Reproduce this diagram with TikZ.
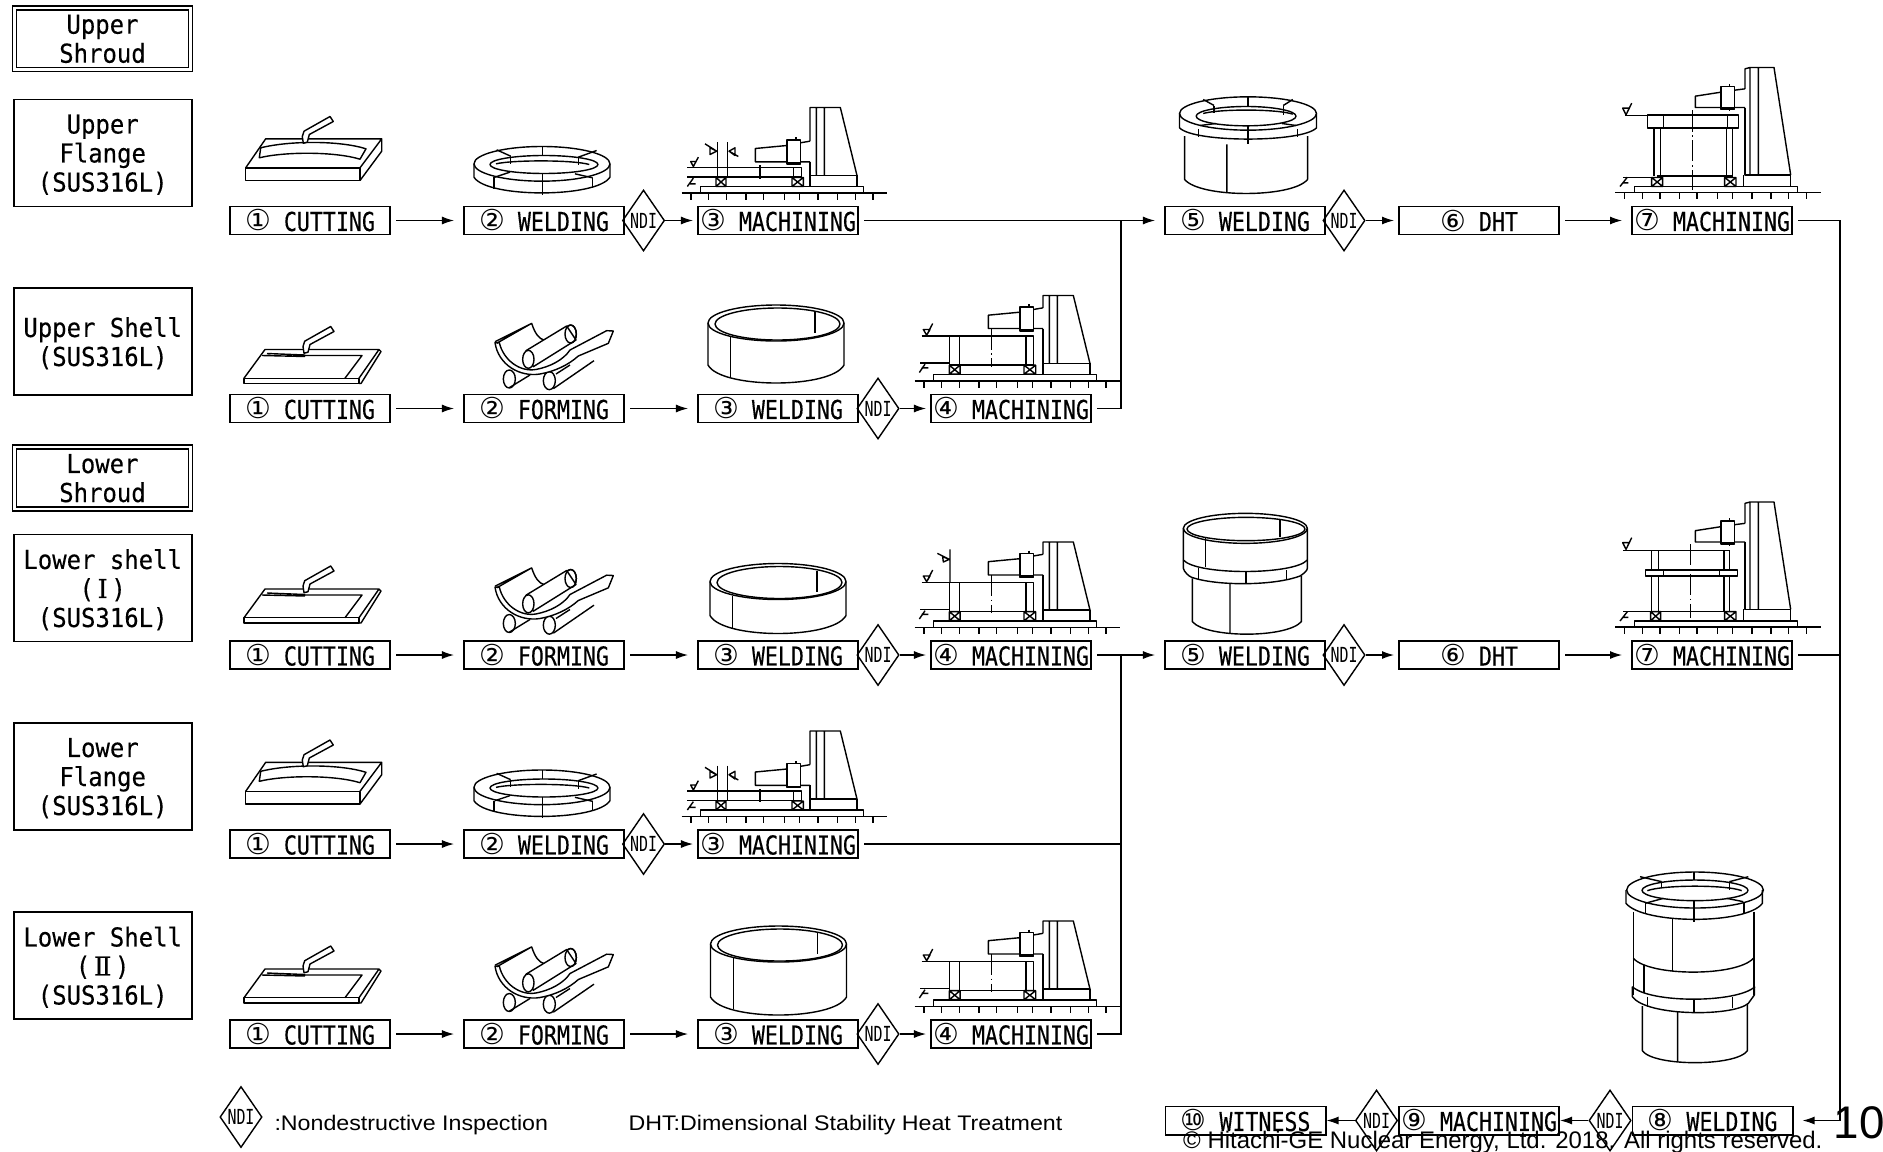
\documentclass[tikz,border=0pt]{standalone}
\usepackage{fontspec}
\usetikzlibrary{arrows.meta,positioning,shapes.geometric}
\newfontfamily\gothic[FakeStretch=0.83,FakeBold=0.25]{DejaVu Sans Mono}
\newfontfamily\gothicwide[FakeStretch=0.92,FakeBold=0.25]{DejaVu Sans Mono}
\newfontfamily\ndifamily[FakeStretch=0.72]{DejaVu Sans Mono}
\newfontfamily\circfamily{DejaVu Sans}
\newfontfamily\romanfamily[FakeBold=0.25]{DejaVu Serif}
\newfontfamily\notefamily[FakeStretch=1.1]{Liberation Sans}
\newfontfamily\arialfamily{Liberation Sans}
\newcommand{\stepnum}[1]{{\circfamily\fontsize{8.2}{8.2}\selectfont #1}}
\newcommand{\romnum}[1]{\hspace{1pt}{\romanfamily #1}\hspace{1pt}}
\tikzset{
  part/.style={draw, line width=.4pt, line join=round},
  centerline/.style={part, dash pattern=on 6pt off 1pt on .5pt off 1pt},
  pics/torch/.style={code={
    \draw[part, fill=white] (-6.7,-77.3) -- (-7.7,-84) -- (-6,-89.3) -- (20,-104) -- (23.3,-99) -- (-0.7,-86) -- (-2.7,-78.3) -- cycle;
  }},
  pics/plate/.style={code={
    \draw[part] (-64.3,-52.7) rectangle (50,-40);
    \draw[part] (-64.3,-52.7) -- (-44.3,-81.7) -- (71.7,-81.7) -- (50,-52.7) (71.7,-81.7) -- (71.7,-69.3) -- (50,-40);
    \draw[part] (-49.3,-72.7) .. controls (-20,-80) and (30,-80) .. (56,-71.7) -- (50,-61.3) .. controls (25,-69) and (-25,-69) .. (-50.7,-62.7) -- cycle;
    \pic {torch};
  }},
  pics/sheet/.style={code={
    \draw[part] (-66,-30.3) rectangle (49,-25);
    \draw[part] (-66,-30.3) -- (-45,-59) -- (69,-59) -- (49,-30.3) (69,-59) -- (71,-57) -- (51,-25) -- (49,-25);
    \draw[part] (-48,-53) -- (-5,-52) (-43,-55) -- (-5,-53.5) (-5,-53) -- (52,-53) -- (35,-30.3);
    \pic[shift={(0.7,22)}] {torch};
  }},
  pics/flangering/.style={code={
    \begin{scope}[shift={(-324,-160)}, scale=0.3333]
      \draw[part] (966,310) ellipse [x radius=204, y radius=52];
      \draw[part] (972,312) ellipse [x radius=162, y radius=27];
      \draw[part] (828,310) .. controls (880,298) and (1060,298) .. (1108,312);
      \draw[part] (762,310) -- (762,350) .. controls (800,413) and (1130,413) .. (1170,350) -- (1170,310);
      \draw[part] (967,258) -- (967,285) (967,338) -- (967,403) (872,288) -- (872,310) (1075,290) -- (1075,315) (822,350) -- (822,385) (1117,352) -- (1117,382);
      \draw[part] (830,268) -- (872,287) (1130,270) -- (1075,290) (825,350) -- (870,335) (1118,352) -- (1065,340);
    \end{scope}
  }},
  pics/rollers/.style={code={
    \begin{scope}[shift={(-74,-108.5)}, scale=0.3333]
      \draw[part] (118,237) ellipse [x radius=18, y radius=27];
      \draw[part] (118,263) -- (180,225);
      \draw[part] (238,242) ellipse [x radius=18, y radius=27];
      \draw[part] (250,266) -- (372,182) (258,222) -- (300,195);
      \draw[part, fill=white] (75,128) .. controls (85,195) and (150,232) .. (210,222) .. controls (255,214) and (295,195) .. (325,168) -- (415,130) -- (430,93) -- (410,92) -- (300,150) .. controls (280,180) and (240,200) .. (200,208) .. controls (150,218) and (100,180) .. (88,128) -- cycle;
      \draw[part] (75,125) -- (185,70) -- (80,130) (185,70) .. controls (195,100) and (205,115) .. (225,122);
      \draw[part] (302,102) ellipse [x radius=17, y radius=27];
      \draw[part, fill=white] (168,152) -- (290,78) -- (318,120) -- (190,200) -- cycle;
      \draw[part] (302,102) ellipse [x radius=17, y radius=27];
      \draw[part, fill=white] (175,178) ellipse [x radius=17, y radius=27];
    \end{scope}
  }},
  pics/shellring/.style={code={
    \draw[part] (0,0) ellipse [x radius=68, y radius=18];
    \draw[part] (1.5,1) ellipse [x radius=62.5, y radius=16];
    \draw[part] (-68,0) -- (-68,#1) .. controls (-55,#1+24) and (55,#1+24) .. (68,#1) -- (68,0);
    \draw[part] (-45.3,14) -- (-45.3,#1+12) (39,-11) -- (39,10);
  }},
  pics/shortmill/.style={code={
    \begin{scope}[shift={(-111,-155)}, scale=0.3333]
      \draw[part] (429,163+#1) -- (429,126) -- (520,126) -- (570,330) (448,126) -- (448,330) (472,126) -- (472,330);
      \draw[part] (429,225+#1) -- (429,330) -- (570,330);
      \draw[part] (429,362) -- (429,330) (570,330) -- (570,362);
      \draw[part] (360,176+#1) -- (265,185+#1) -- (265,225+#1) -- (360,225+#1) (400,225+#1) -- (429,225+#1) (400,168+#1) -- (429,163+#1);
      \draw[part] (360,160+#1) rectangle (400,232+#1) (360,228+#1) -- (400,228+#1) (387,152+#1) -- (387,160+#1);
      \draw[part] (100,363) rectangle (590,382);
      \draw[part] (44,382) -- (660,382);
      \draw[part] (72,382) -- (72,403) (125,382) -- (125,403) (178,382) -- (178,403) (237,382) -- (237,403) (290,382) -- (290,403) (352,382) -- (352,403) (397,382) -- (397,403) (453,382) -- (453,403) (512,382) -- (512,403) (565,382) -- (565,403) (618,382) -- (618,403);
    \end{scope}
  }},
  pics/crossblock/.style={code={
    \draw[part] (0,0) rectangle (#1,9) (0,0) -- (#1,9) (0,9) -- (#1,0);
  }},
  pics/workfour/.style={code={
    \begin{scope}[shift={(-111,-155)}, scale=0.3333]
      \draw[part] (65,247) -- (400,247) -- (400,335) -- (148,335) -- (148,247) (60,328) -- (148,328) (178,247) -- (178,335) (378,247) -- (378,335);
      \draw[centerline] (275,225) -- (275,340);
      \draw[part] (70,228) -- (90,228) -- (80,245) -- cycle (80,245) -- (98,210) (58,357) -- (75,332) (65,343) -- (85,343);
      \pic at (148,335) {crossblock=10.7};
      \pic at (372,335) {crossblock=11.7};
    \end{scope}
  }},
  pics/weldtick/.style={code={
    \begin{scope}[shift={(-111,-155)}, scale=0.3333]
      \draw[part] (150,148) -- (150,248) (128,170) -- (148,178) -- (130,186) -- cycle (112,160) -- (148,178);
    \end{scope}
  }},
  pics/workthree/.style={code={
    \begin{scope}[shift={(-111,-155)}, scale=0.3333]
      \draw[part] (61,306) -- (404,306) -- (404,335) -- (152,335) -- (152,306) (61,335) -- (152,335) (182,306) -- (182,335) (279,300) -- (279,340) (379,306) -- (379,335);
      \draw[part] (152,230) -- (152,306) (182,230) -- (182,306);
      \draw[part] (129,247) -- (149,257) -- (129,267) -- cycle (114,235) -- (149,257) (186,257) -- (204,247) -- (204,270) -- cycle (186,257) -- (214,273);
      \draw[part] (71,288) -- (87,288) -- (79,303) -- cycle (79,303) -- (94,275) (79,338) -- (61,363) (69,355) -- (86,355);
      \pic at (147,336) {crossblock=10};
      \pic at (375,336) {crossblock=11.3};
    \end{scope}
  }},
  pics/tallmill/.style={code={
    \begin{scope}[shift={(-112,-165)}, scale=0.3333]
      \draw[part] (435,100) -- (435,40) -- (450,36) -- (522,36) -- (572,358) (450,36) -- (450,358) (475,36) -- (475,358);
      \draw[part] (435,156) -- (435,358) -- (572,358);
      \draw[part] (431,392) -- (431,358) (572,358) -- (572,392);
      \draw[part] (363,110) -- (286,122) -- (286,156) -- (363,156) (404,156) -- (435,156) (404,104) -- (435,100);
      \draw[part] (363,93) rectangle (404,162) (388,85) -- (388,93) (388,162) -- (388,168) (363,158) -- (404,158);
      \draw[part] (103,393) rectangle (592,411);
      \draw[part] (46,411) -- (663,411);
      \draw[part] (74,411) -- (74,432) (127,411) -- (127,432) (180,411) -- (180,432) (238,411) -- (238,432) (291,411) -- (291,432) (353,411) -- (353,432) (397,411) -- (397,432) (456,411) -- (456,432) (513,411) -- (513,432) (566,411) -- (566,432) (620,411) -- (620,432);
      \draw[part] (68,158) -- (88,158) -- (78,178) -- cycle (78,178) -- (95,143) (60,393) -- (82,365) (68,382) -- (85,382);
    \end{scope}
  }},
  pics/tallworkup/.style={code={
    \begin{scope}[shift={(-112,-165)}, scale=0.3333]
      \draw[part] (143,178) rectangle (416,217) (191,178) -- (191,217) (383,178) -- (383,217) (76,180) -- (143,180);
      \draw[part] (162,217) -- (162,362) (182,217) -- (182,362) (379,217) -- (379,362) (398,217) -- (398,362) (172,362) -- (398,362) (70,366) -- (172,366);
      \draw[centerline] (277,165) -- (277,405);
      \pic at (155,366) {crossblock=11};
      \pic at (374,366) {crossblock=11.3};
    \end{scope}
  }},
  pics/tallworklow/.style={code={
    \begin{scope}[shift={(-112,-165)}, scale=0.3333]
      \draw[part] (70,181) -- (388,181) (155,181) -- (155,240) (175,181) -- (175,240) (372,181) -- (372,240) (388,181) -- (388,240);
      \draw[part] (137,240) rectangle (412,258) (190,240) -- (190,258) (358,240) -- (358,258);
      \draw[part] (155,258) -- (155,365) (175,258) -- (175,365) (372,258) -- (372,365) (388,258) -- (388,365) (70,365) -- (388,365);
      \draw[centerline] (272,162) -- (272,385);
      \pic at (152,365) {crossblock=10};
      \pic at (374,365) {crossblock=11.3};
    \end{scope}
  }},
  pics/weldupper/.style={code={
    \begin{scope}[shift={(-365,-181)}, xscale=0.64, yscale=0.3333]
      \draw[part] (575,222) ellipse [x radius=107, y radius=50];
      \draw[part] (572,230) ellipse [x radius=78, y radius=29];
      \draw[part] (505,222) .. controls (530,208) and (620,208) .. (645,224);
      \draw[part] (468,222) -- (468,265) .. controls (490,310) and (660,310) .. (682,265) -- (682,222);
      \draw[part] (575,172) -- (575,200) (575,258) -- (575,315) (522,200) -- (522,222) (630,200) -- (630,228) (498,268) -- (498,293) (652,268) -- (652,293);
      \draw[part] (505,180) -- (522,198) (645,180) -- (630,198) (500,258) -- (525,252) (650,258) -- (628,252);
      \draw[part] (476,290) -- (476,420) .. controls (500,476) and (644,476) .. (668,420) -- (668,290) (542,315) -- (542,460);
    \end{scope}
  }},
  pics/weldlower/.style={code={
    \begin{scope}[shift={(-85,-155)}, scale=0.3333]
      \draw[part] (256,85) ellipse [x radius=186, y radius=45];
      \draw[part] (258,87) ellipse [x radius=177, y radius=35];
      \draw[part] (70,85) -- (70,205) .. controls (72,215) and (85,228) .. (95,232) .. controls (170,258) and (340,258) .. (420,228) .. controls (430,222) and (442,212) .. (442,205) -- (442,85);
      \draw[part] (70,180) .. controls (110,226) and (400,226) .. (442,180);
      \draw[part] (137,115) -- (137,200) (360,60) -- (360,110) (115,205) -- (115,238) (258,215) -- (258,252) (380,210) -- (380,238);
      \draw[part] (97,235) -- (97,365) .. controls (140,415) and (380,415) .. (424,365) -- (424,228) (210,252) -- (210,398);
    \end{scope}
  }},
}
\begin{document}
\begin{tikzpicture}[
  x=0.01cm, y=-0.01cm,
  font=\gothic\fontsize{7.4}{8.25}\selectfont,
  stepbox/.style={rectangle, draw, line width=.55pt, minimum width=1.6cm, minimum height=.28cm, inner sep=0pt},
  namebox/.style={rectangle, draw, line width=.5pt, minimum width=1.78cm, minimum height=1.07cm, align=center, inner sep=0pt, text depth=-.4pt, font=\gothicwide\fontsize{7.4}{8.25}\selectfont},
  titlebox/.style={namebox, double, double distance=.7pt, line width=.45pt, minimum width=1.76cm, minimum height=.615cm},
  ndi/.style={diamond, draw, line width=.4pt, inner sep=0pt, minimum width=.38cm, minimum height=.61cm, font=\ndifamily\fontsize{5.9}{6}\selectfont},
  arrow/.style={-{Latex[length=1.2mm, width=.8mm]}, line width=.35pt, shorten <=.05cm, shorten >=.09cm},
  ndiarrow/.style={-{Latex[length=1.2mm, width=.8mm]}, line width=.35pt, shorten >=.04cm},
  backarrow/.style={-{Latex[length=1.2mm, width=.8mm]}, line width=.35pt},
  feed/.style={line width=.35pt, shorten <=.05cm},
  note/.style={anchor=base west, inner sep=0pt, font=\notefamily\fontsize{6}{7}\selectfont},
]
\useasboundingbox (0,0) rectangle (1883,1151);

\node[titlebox] (upshroud) at (102.5,38.7) {Upper\\Shroud};
\node[namebox] (upflange) at (102.7,153) {Upper\\Flange\\(SUS316L)};
\node[namebox] (upshell) at (102.7,341.5) {Upper Shell\\(SUS316L)};
\node[titlebox] (lowshroud) at (102.5,478) {Lower\\Shroud};
\node[namebox] (lowshellone) at (102.7,588) {Lower shell\\(\romnum{Ⅰ})\\(SUS316L)};
\node[namebox] (lowflange) at (102.7,776.5) {Lower\\Flange\\(SUS316L)};
\node[namebox] (lowshelltwo) at (102.7,965.5) {Lower Shell\\(\romnum{Ⅱ})\\(SUS316L)};

\node[stepbox] (ufcut) at (310,220.5) {\stepnum{①} CUTTING};
\node[stepbox] (ufweld) at (544,220.5) {\stepnum{②} WELDING};
\node[ndi] (ufndi) at (643.5,220.5) {NDI};
\node[stepbox] (ufmach) at (778,220.5) {\stepnum{③} MACHINING};
\node[stepbox] (uweld) at (1245,220.5) {\stepnum{⑤} WELDING};
\node[ndi] (undi) at (1344,220.5) {NDI};
\node[stepbox] (udht) at (1479,220.5) {\stepnum{⑥} DHT};
\node[stepbox] (umach) at (1712,220.5) {\stepnum{⑦} MACHINING};

\node[stepbox] (uscut) at (310,408.5) {\stepnum{①} CUTTING};
\node[stepbox] (usform) at (544,408.5) {\stepnum{②} FORMING};
\node[stepbox] (usweld) at (778,408.5) {\stepnum{③} WELDING};
\node[ndi] (usndi) at (878,408.5) {NDI};
\node[stepbox] (usmach) at (1011,408.5) {\stepnum{④} MACHINING};

\node[stepbox] (lacut) at (310,655) {\stepnum{①} CUTTING};
\node[stepbox] (laform) at (544,655) {\stepnum{②} FORMING};
\node[stepbox] (laweld) at (778,655) {\stepnum{③} WELDING};
\node[ndi] (landi) at (878,655) {NDI};
\node[stepbox] (lamach) at (1011,655) {\stepnum{④} MACHINING};
\node[stepbox] (lweld) at (1245,655) {\stepnum{⑤} WELDING};
\node[ndi] (lndi) at (1344,655) {NDI};
\node[stepbox] (ldht) at (1479,655) {\stepnum{⑥} DHT};
\node[stepbox] (lmach) at (1712,655) {\stepnum{⑦} MACHINING};

\node[stepbox] (lfcut) at (310,844) {\stepnum{①} CUTTING};
\node[stepbox] (lfweld) at (544,844) {\stepnum{②} WELDING};
\node[ndi] (lfndi) at (643.5,844) {NDI};
\node[stepbox] (lfmach) at (778,844) {\stepnum{③} MACHINING};

\node[stepbox] (lbcut) at (310,1034) {\stepnum{①} CUTTING};
\node[stepbox] (lbform) at (544,1034) {\stepnum{②} FORMING};
\node[stepbox] (lbweld) at (778,1034) {\stepnum{③} WELDING};
\node[ndi] (lbndi) at (878,1034) {NDI};
\node[stepbox] (lbmach) at (1011,1034) {\stepnum{④} MACHINING};

\node[stepbox] (fweld) at (1712.5,1120.5) {\stepnum{⑧} WELDING};
\node[ndi] (fndione) at (1610,1120.5) {NDI};
\node[stepbox] (fmach) at (1479,1120.5) {\stepnum{⑨} MACHINING};
\node[ndi] (fnditwo) at (1376.5,1120.5) {NDI};
\node[stepbox] (fwit) at (1245.5,1120.5) {\stepnum{⑩} WITNESS};

\coordinate (upjoin) at (1121,220.5);
\coordinate (lowjoin) at (1121,655);
\coordinate (rightrun) at (1840,220.5);

\draw[arrow] (ufcut) -- (ufweld);
\draw[ndiarrow] (ufndi) -- (ufmach);
\draw[arrow] (ufmach) -- (uweld);
\draw[ndiarrow] (undi) -- (udht);
\draw[arrow] (udht) -- (umach);
\draw[arrow] (uscut) -- (usform);
\draw[arrow] (usform) -- (usweld);
\draw[ndiarrow] (usndi) -- (usmach);
\draw[feed] (usmach) -- (usmach -| upjoin) -- (upjoin);
\draw[arrow] (lacut) -- (laform);
\draw[arrow] (laform) -- (laweld);
\draw[ndiarrow] (landi) -- (lamach);
\draw[arrow] (lamach) -- (lweld);
\draw[ndiarrow] (lndi) -- (ldht);
\draw[arrow] (ldht) -- (lmach);
\draw[arrow] (lfcut) -- (lfweld);
\draw[ndiarrow] (lfndi) -- (lfmach);
\draw[feed] (lfmach) -- (lfmach -| lowjoin);
\draw[arrow] (lbcut) -- (lbform);
\draw[arrow] (lbform) -- (lbweld);
\draw[ndiarrow] (lbndi) -- (lbmach);
\draw[feed] (lbmach) -- (lbmach -| lowjoin) -- (lowjoin);
\draw[feed] (lmach) -- (lmach -| rightrun);
\draw[arrow] (umach) -- (rightrun) -- (rightrun |- fweld) -- (fweld);
\draw[backarrow] (fndione) -- (fmach);
\draw[backarrow] (fnditwo) -- (fwit);

\pic at (ufcut) {plate};
\pic at (ufweld) {flangering};
\pic at (ufmach) {shortmill=64};
\pic at (ufmach) {workthree};
\pic at (uweld) {weldupper};
\pic at (umach) {tallmill};
\pic at (umach) {tallworkup};

\pic at (uscut) {sheet};
\pic at (usform) {rollers};
\pic at (776,323) {shellring=42};
\pic at (usmach) {shortmill=0};
\pic at (usmach) {workfour};

\pic[shift={(0,-7)}] at (lacut) {sheet};
\pic[shift={(0,-2)}] at (laform) {rollers};
\pic at (778,581.5) {shellring=34};
\pic at (lamach) {shortmill=0};
\pic at (lamach) {workfour};
\pic at (lamach) {weldtick};
\pic at (lweld) {weldlower};
\pic at (lmach) {tallmill};
\pic at (lmach) {tallworklow};

\pic at (lfcut) {plate};
\pic at (lfweld) {flangering};
\pic at (lfmach) {shortmill=64};
\pic at (lfmach) {workthree};

\pic[shift={(0,-6)}] at (lbcut) {sheet};
\pic[shift={(0,-2)}] at (lbform) {rollers};
\pic at (778.5,944) {shellring=53};
\pic at (lbmach) {shortmill=0};
\pic at (lbmach) {workfour};

\begin{scope}[shift={(1600,880)}, scale=0.3333]
  \draw[part] (285,30) ellipse [x radius=205, y radius=54];
  \draw[part] (285,31) ellipse [x radius=159, y radius=31];
  \draw[part] (142,32) .. controls (190,14) and (380,14) .. (425,32);
  \draw[part] (78,30) -- (78,70) .. controls (130,134) and (440,134) .. (487,70) -- (487,30);
  \draw[part] (137,68) -- (137,103) (432,68) -- (432,103) (282,-24) -- (282,0) (282,60) -- (282,125) (185,5) -- (185,25) (388,5) -- (388,30);
  \draw[part] (135,70) -- (190,55) (430,65) -- (380,55) (120,-10) -- (185,5) (445,-10) -- (388,5);
  \draw[part] (100,95) -- (100,345) (462,95) -- (462,345) (218,115) -- (218,272) (132,255) -- (132,340);
  \draw[part] (100,235) .. controls (150,290) and (410,290) .. (460,235);
  \draw[part] (97,320) .. controls (150,370) and (410,370) .. (465,320);
  \draw[part] (97,320) -- (97,350) .. controls (140,410) and (400,410) .. (445,370) -- (463,345) -- (463,320);
  \draw[part] (142,350) -- (142,382) (282,360) -- (282,397) (398,352) -- (398,385);
  \draw[part] (127,378) -- (127,512) .. controls (160,560) and (410,560) .. (442,512) -- (442,372) (233,395) -- (233,545);
\end{scope}

\node[ndi] (legendndi) at (241,1117) {NDI};
\node[note] (ndinote) at (273.8,1130) {:Nondestructive Inspection};
\node[note] (dhtnote) at (627.8,1130) {DHT:Dimensional Stability Heat Treatment};
\node[anchor=base west, inner sep=0pt, font=\arialfamily\fontsize{6.81}{7.5}\selectfont] (copy) at (1182.5,1148.3) {© Hitachi-GE Nuclear Energy, Ltd. 2018. All rights reserved.};
\node[anchor=base west, inner sep=0pt, font=\arialfamily\fontsize{13}{13}\selectfont] (pageno) at (1833,1138) {10};
\end{tikzpicture}
\end{document}
